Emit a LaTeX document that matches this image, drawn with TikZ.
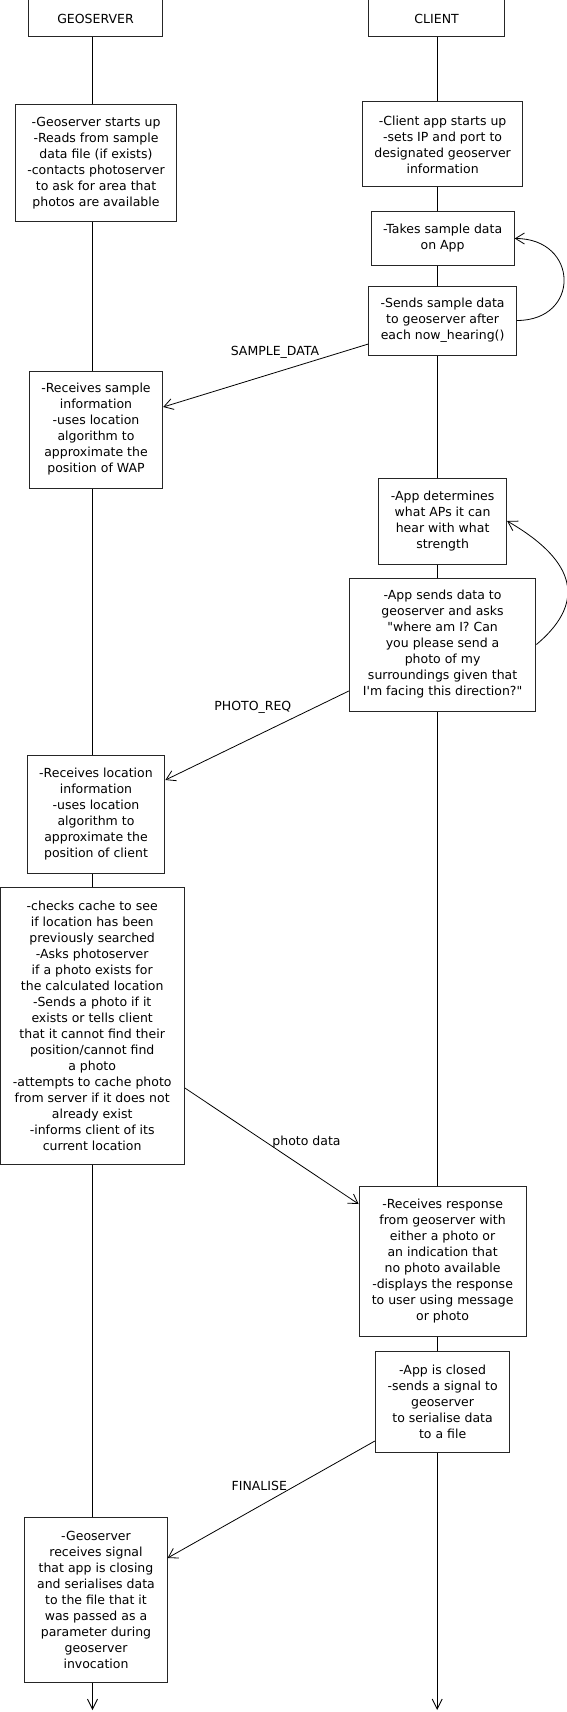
\documentclass[tikz,border=0pt]{standalone}
\usepackage{fontspec}
\setmainfont{DejaVu Sans}
\usetikzlibrary{arrows.meta}
\tikzset{
  box/.style={draw=black!85, line width=1pt, fill=white, align=center, inner sep=0pt, font=\fontsize{12.5}{16}\selectfont},
  msg/.style={draw, line width=0.8pt, -{Straight Barb[length=9pt,width=11pt]}},
  life/.style={draw, line width=0.9pt, -{Straight Barb[length=10pt,width=10pt]}},
  lbl/.style={inner sep=0pt, font=\fontsize{12.5}{16}\selectfont},
}

\begin{document}
\begin{tikzpicture}[x=1pt, y=1pt]
	%%%%% START %%%%%
	\useasboundingbox (0,0) rectangle (567,-1712);
	
	\node[box, minimum width=134.5pt, minimum height=37pt] (geo) at (95.5,-18.5) {GEOSERVER};
	\node[box, minimum width=135.6pt, minimum height=37pt] (client) at (436.6,-18.5) {CLIENT};
	
	\coordinate (gend) at (92.5,-1710);
	\coordinate (cend) at (437.2,-1710);
	\draw[life] (geo.south -| gend) -- (gend);
	\draw[life] (client.south -| cend) -- (cend);
	
	% geoserver side
	\node[box, minimum width=161.6pt, minimum height=117pt] (g1) at (96,-163.5) {-Geoserver starts up\\-Reads from sample\\data file (if exists)\\-contacts photoserver\\to ask for area that\\photos are available};
	\node[box, minimum width=133.4pt, minimum height=117pt] (g2) at (96,-429.5) {-Receives sample\\information\\-uses location\\algorithm to\\approximate the\\position of WAP};
	\node[box, minimum width=137.8pt, minimum height=118pt] (g3) at (96,-814) {-Receives location\\information\\-uses location\\algorithm to\\approximate the\\position of client};
	\node[box, minimum width=184.4pt, minimum height=277pt] (g4) at (92.2,-1025.5) {-checks cache to see\\if location has been\\previously searched\\-Asks photoserver\\if a photo exists for\\the calculated location\\-Sends a photo if it\\exists or tells client\\that it cannot find their\\position/cannot find\\a photo\\-attempts to cache photo\\from server if it does not\\already exist\\-informs client of its\\current location};
	\node[box, minimum width=142.1pt, minimum height=165pt] (g5) at (96,-1599.5) {-Geoserver\\receives signal\\that app is closing\\and serialises data\\to the file that it\\was passed as a\\parameter during\\geoserver\\invocation};
	
	% client side
	\node[box, minimum width=160.6pt, minimum height=85pt] (c1) at (442.6,-144.5) {-Client app starts up\\-sets IP and port to\\designated geoserver\\information};
	\node[box, minimum width=143.2pt, minimum height=53pt] (c2) at (442.6,-238.5) {-Takes sample data\\on App};
	\node[box, minimum width=147.5pt, minimum height=69pt] (c3) at (442.6,-320.5) {-Sends sample data\\to geoserver after\\each now\_hearing()};
	\node[box, minimum width=128pt, minimum height=86pt] (c4) at (442.6,-521) {-App determines\\what APs it can\\hear with what\\strength};
	\node[box, minimum width=186.6pt, minimum height=133pt] (c5) at (442.6,-644.5) {-App sends data to\\geoserver and asks\\\textquotedbl where am I? Can\\you please send a\\photo of my\\surroundings given that\\I\textquotesingle m facing this direction?\textquotedbl};
	\node[box, minimum width=167pt, minimum height=150pt] (c6) at (442.6,-1261) {-Receives response\\from geoserver with\\either a photo or\\an indication that\\no photo available\\-displays the response\\to user using message\\or photo};
	\node[box, minimum width=134.5pt, minimum height=101pt] (c7) at (442.6,-1401.5) {-App is closed\\-sends a signal to\\geoserver\\to serialise data\\to a file};
	
	% loops
	\draw[msg] (c3.east) to[out=0, in=0, looseness=2.0] (c2.east);
	\draw[msg] (c5.east) to[out=40, in=-30, looseness=1.45] (c4.east);
	
	% messages
	\draw[msg] ([yshift=-23.5pt]c3.west) -- ([yshift=22.5pt]g2.east);
	\node[lbl] (sampledata) at (275,-352) {SAMPLE\_DATA};
	
	\draw[msg] ([yshift=-46.5pt]c5.west) -- ([yshift=34pt]g3.east);
	\node[lbl] (photoreq) at (252.8,-707) {PHOTO\_REQ};
	
	\draw[msg] ([yshift=-62.5pt]g4.east) -- ([yshift=57pt]c6.west);
	\node[lbl] (photodata) at (306.5,-1142) {photo data};
	
	\draw[msg] ([yshift=-39.5pt]c7.west) -- ([yshift=41.5pt]g5.east);
	\node[lbl] (finalise) at (259.3,-1486) {FINALISE};
	
	%%%%% END %%%%%
\end{tikzpicture}
\end{document}
